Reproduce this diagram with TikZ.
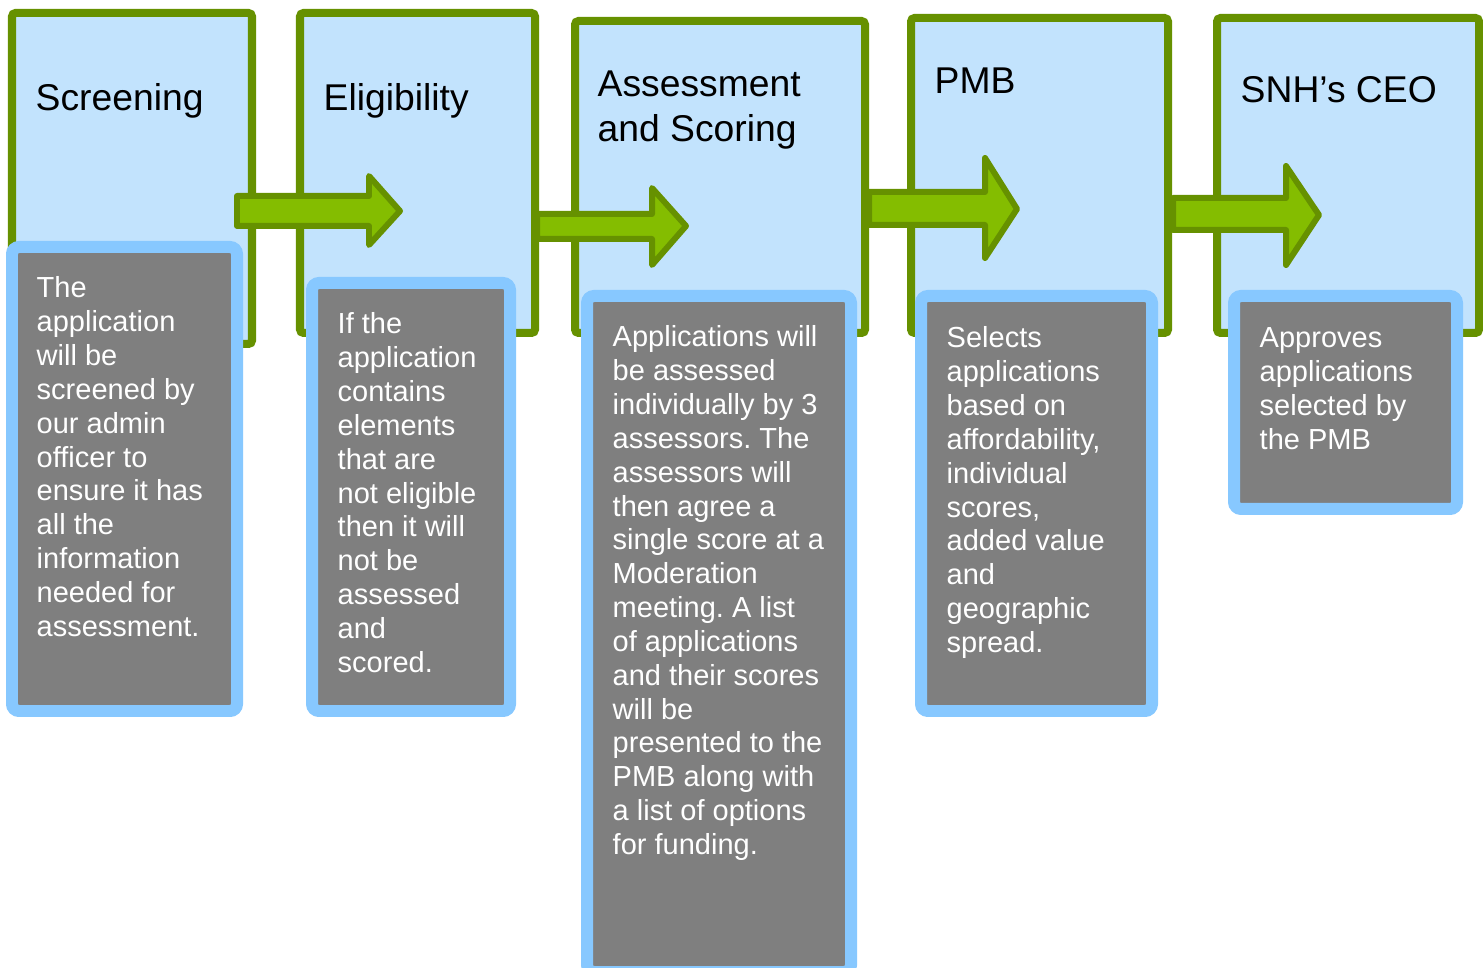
\documentclass[tikz,border=0pt]{standalone}
\usepackage{fontspec}
\setmainfont{Liberation Sans}
\frenchspacing

\definecolor{stageline}{RGB}{102,145,0}
\definecolor{stagefill}{RGB}{194,227,253}
\definecolor{arrowfill}{RGB}{132,189,0}
\definecolor{infoline}{RGB}{135,200,255}
\definecolor{infofill}{RGB}{127,127,127}

% first-line-baseline paragraph for the stage descriptions
\newcommand{\textlines}[1]{\parbox[t]{6cm}{\raggedright #1}}

\begin{document}
\begin{tikzpicture}[x=0.01cm,y=-0.01cm,
  stagebox/.style={draw=stageline,fill=stagefill,line width=2.28pt,rounded corners=1pt},
  flowarrow/.style={draw=stageline,fill=arrowfill,line width=1.7pt,line join=round},
  infobox/.style={draw=infoline,fill=infofill,line width=3.41pt,rounded corners=2pt},
  stagetitle/.style={anchor=base west,inner sep=0pt,text=black,
    font=\fontsize{10.6pt}{12.52pt}\selectfont},
  infotext/.style={anchor=base west,inner sep=0pt,text=white,
    font=\fontsize{8.25pt}{9.62pt}\selectfont}]

\useasboundingbox (0,0) rectangle (1483,968);
\clip (0,0) rectangle (1483,968);
\fill[white] (0,0) rectangle (1483,968);

% stage panels
\draw[stagebox] (12,13) rectangle (252,344);
\draw[stagebox] (300,13) rectangle (535,333);
\draw[stagebox] (575,21) rectangle (865,333);
\draw[stagebox] (911,18) rectangle (1168,333);
\draw[stagebox] (1217,18) rectangle (1479,333);

% block arrows between the stages
\draw[flowarrow] (237,196) -- (369,196) -- (369,176) -- (400,211)
  -- (369,245) -- (369,226) -- (237,226) -- cycle;
\draw[flowarrow] (537,214) -- (652,214) -- (652,188) -- (686,226)
  -- (652,265) -- (652,239) -- (537,239) -- cycle;
\draw[flowarrow] (869,192) -- (985,192) -- (985,158) -- (1017,209)
  -- (985,258) -- (985,225) -- (869,225) -- cycle;
\draw[flowarrow] (1173,198) -- (1286,198) -- (1286,166) -- (1319,215)
  -- (1286,265) -- (1286,230) -- (1173,230) -- cycle;

% description panels
\draw[infobox] (12,247) rectangle (237,711);
\draw[infobox] (312,283) rectangle (510,711);
\draw[infobox] (587,296) rectangle (851,972);
\draw[infobox] (921,296) rectangle (1152,711);
\draw[infobox] (1234,296) rectangle (1457,509);

% stage titles
\node[stagetitle] (screening) at (35,111) {Screening};
\node[stagetitle] (eligibility) at (323,111) {Eligibility};
\node[stagetitle] (assessment) at (597,97) {\textlines{Assessment\\and Scoring}};
\node[stagetitle] (pmb) at (934,94) {PMB};
\node[stagetitle] (ceo) at (1240,103) {SNH’s CEO};

% stage descriptions
\node[infotext] (screeningtext) at (36,298) {\textlines{The\\application\\will be\\screened by\\our admin\\officer to\\ensure it has\\all the\\information\\needed for\\assessment.}};
\node[infotext] (eligibilitytext) at (337,334) {\textlines{If the\\application\\contains\\elements\\that are\\not eligible\\then it will\\not be\\assessed\\and\\scored.}};
\node[infotext] (assessmenttext) at (612,347) {\textlines{Applications will\\be assessed\\individually by 3\\assessors. The\\assessors will\\then agree a\\single score at a\\Moderation\\meeting. A list\\of applications\\and their scores\\will be\\presented to the\\PMB along with\\a list of options\\for funding.}};
\node[infotext] (pmbtext) at (946,348) {\textlines{Selects\\applications\\based on\\affordability,\\individual\\scores,\\added value\\and\\geographic\\spread.}};
\node[infotext] (ceotext) at (1259,348) {\textlines{Approves\\applications\\selected by\\the PMB}};

\end{tikzpicture}
\end{document}
